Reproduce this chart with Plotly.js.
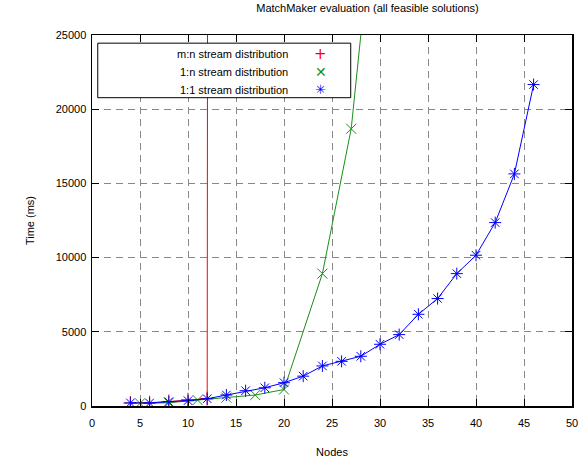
<!DOCTYPE html>
<html>
<head>
<meta charset="utf-8">
<script src="https://cdn.plot.ly/plotly-3.0.1.min.js"></script>
<style>html,body{margin:0;padding:0;background:#fff;}#chart{width:579px;height:460px;}</style>
</head>
<body>
<div id="chart"></div>
<script>
// ---- data ----
const seriesNames = ["m:n stream distribution", "1:n stream distribution", "1:1 stream distribution"];

const mnNodes = [4, 6, 8, 10, 12, 14];
const mnTime  = [200, 220, 300, 420, 500, 1500000];

const onenNodes = [5, 8, 11, 14, 17, 20, 24, 27, 30];
const onenTime  = [180, 220, 400, 560, 740, 1110, 8920, 18680, 37600];

const oneoneNodes = [4, 6, 8, 10, 12, 14, 16, 18, 20, 22, 24, 26, 28, 30, 32, 34, 36, 38, 40, 42, 44, 46];
const oneoneTime  = [210, 200, 290, 360, 490, 740, 1030, 1230, 1570, 2010, 2700, 3010, 3350, 4160, 4810, 6180, 7240, 8920, 10160, 12360, 15640, 21660];

const xTicks = [0, 5, 10, 15, 20, 25, 30, 35, 40, 45, 50];
const yTicks = [0, 5000, 10000, 15000, 20000, 25000];

const colors = ["#ff0000", "#1a8f1a", "#0000ff"];
const symbols = ["cross-thin-open", "x-thin-open", "asterisk-open"];
const glyphs = ["+", "\u2715", "\u2733"];

const FONT = "Liberation Sans, Arial, sans-serif";

function mk(x, y, i) {
  return {
    x: x, y: y, name: seriesNames[i], type: "scatter", mode: "lines+markers",
    line: {color: colors[i], width: 1},
    marker: {symbol: symbols[i], size: 10, color: colors[i], line: {color: colors[i], width: 1}},
    showlegend: false, cliponaxis: true
  };
}

const traces = [mk(mnNodes, mnTime, 0), mk(onenNodes, onenTime, 1), mk(oneoneNodes, oneoneTime, 2)];

// legend drawn as a white box with right-aligned labels and keys (gnuplot style)
const boxL = 0.012, boxR = 0.539, boxT = 0.978, boxB = 0.831;
const rowY = [0.948, 0.899, 0.852];
const glyphSize = [15, 14, 13];
const annotations = [];
for (let i = 0; i < 3; i++) {
  annotations.push({xref: "paper", yref: "paper", x: 0.413, y: rowY[i], xanchor: "right", yanchor: "middle",
    text: seriesNames[i], showarrow: false, font: {family: FONT, size: 11, color: "#000"}});
  annotations.push({xref: "paper", yref: "paper", x: 0.477, y: rowY[i], xanchor: "center", yanchor: "middle",
    text: glyphs[i], showarrow: false, font: {family: "DejaVu Sans", size: glyphSize[i], color: colors[i]}});
}

const axisCommon = {
  showline: true, linecolor: "#000", linewidth: 1.5, mirror: "allticks",
  ticks: "inside", ticklen: 7, tickwidth: 1, tickcolor: "#000",
  showgrid: true, gridcolor: "#888888", gridwidth: 1, griddash: "7px,5px",
  zeroline: false, tickfont: {family: FONT, size: 11, color: "#000"},
  automargin: false
};

const layout = {
  width: 579, height: 460,
  margin: {l: 92, r: 7, t: 35, b: 54},
  paper_bgcolor: "#fff", plot_bgcolor: "#fff",
  title: {text: "MatchMaker evaluation (all feasible solutions)", font: {family: FONT, size: 11, color: "#000"},
          x: 0.574, xanchor: "center", y: 0.982, yanchor: "middle", xref: "paper"},
  xaxis: Object.assign({}, axisCommon, {
    range: [0, 50], tickvals: xTicks, ticktext: xTicks.map(String),
    ticklabelstandoff: 6,
    title: {text: "Nodes", font: {family: FONT, size: 11, color: "#000"}, standoff: 20}
  }),
  yaxis: Object.assign({}, axisCommon, {
    range: [0, 25000], tickvals: yTicks, ticktext: yTicks.map(String),
    ticklabelstandoff: 2,
    title: {text: "Time (ms)", font: {family: FONT, size: 11, color: "#000"}, standoff: 19}
  }),
  shapes: [{type: "rect", xref: "paper", yref: "paper", x0: boxL, x1: boxR, y0: boxB, y1: boxT,
            line: {color: "#000", width: 1}, fillcolor: "#fff", layer: "above"}],
  annotations: annotations,
  showlegend: false
};

Plotly.newPlot("chart", traces, layout, {displayModeBar: false, staticPlot: true});
</script>
</body>
</html>
